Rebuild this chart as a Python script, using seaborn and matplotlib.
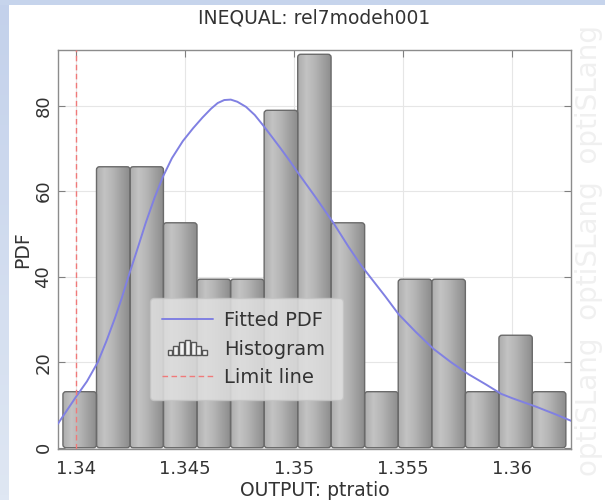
import numpy as np
import matplotlib
matplotlib.use("Agg")
import matplotlib.pyplot as plt
import seaborn as sns
from matplotlib.patches import Rectangle, FancyBboxPatch
from matplotlib.lines import Line2D
from matplotlib.legend_handler import HandlerBase
from matplotlib.colors import LinearSegmentedColormap

# ---- data -----------------------------------------------------------------
bin_edges = [1.33940, 1.34094, 1.34248, 1.34401, 1.34555, 1.34709, 1.34863,
             1.35017, 1.35170, 1.35324, 1.35478, 1.35632, 1.35786, 1.35940,
             1.36093, 1.36247]
pdf_heights = [13.1, 65.7, 65.7, 52.6, 39.4, 39.4, 78.9, 92.0, 52.6, 13.1,
               39.4, 39.4, 13.1, 26.3, 13.1]

fit_x = [1.33917, 1.34000, 1.34050, 1.34100, 1.34140, 1.34180, 1.34210,
         1.34239, 1.34280, 1.34320, 1.34360, 1.34399, 1.34440, 1.34490,
         1.34537, 1.34580, 1.34620, 1.34650, 1.34680, 1.34710, 1.34740,
         1.34780, 1.34820, 1.34858, 1.34900, 1.34940, 1.34980, 1.35018,
         1.35100, 1.35179, 1.35250, 1.35310, 1.35420, 1.35480, 1.35560,
         1.35640, 1.35720, 1.35800, 1.35880, 1.35950, 1.36000, 1.36110,
         1.36200, 1.36280]
fit_pdf = [5.6, 11.9, 15.5, 20.0, 25.0, 30.5, 35.0, 39.8, 46.2, 52.6, 58.4,
           63.4, 67.7, 71.7, 74.7, 77.2, 79.3, 80.6, 81.3, 81.4, 80.9, 79.7,
           77.8, 75.4, 72.6, 69.9, 67.1, 64.3, 58.5, 52.7, 47.0, 42.5, 35.3,
           31.2, 27.0, 23.1, 20.0, 17.2, 14.8, 12.6, 11.6, 9.6, 7.8, 6.1]

limit_value = 1.34
x_ticks = [1.34, 1.345, 1.35, 1.355, 1.36]
x_tick_labels = ["1.34", "1.345", "1.35", "1.355", "1.36"]
y_ticks = [0, 20, 40, 60, 80]

legend_labels = ["Fitted PDF", "Histogram", "Limit line"]

# ---- style ------------------------------------------------------------------
sns.set_style("ticks")
plt.rcParams["font.family"] = ["DejaVu Sans"]
TEXT = "#333333"
CURVE = "#8080e2"
LIMIT = "#f07a7a"

fig = plt.figure(figsize=(6.05, 5.0), dpi=100)
fig.patch.set_facecolor("white")

# slide backdrop: blue bands along the left and top edges
left_band = fig.add_axes([0, 0, 9 / 605, 1], zorder=0)
left_band.imshow(np.linspace(0, 1, 100).reshape(-1, 1), aspect="auto",
                 cmap=LinearSegmentedColormap.from_list("band", ["#c3d1eb", "#dfe7f3"]),
                 extent=(0, 1, 0, 1))
left_band.set_axis_off()
top_band = fig.add_axes([0, 1 - 5 / 500, 1, 5 / 500], zorder=0)
top_band.set_facecolor("#c6d4ec")
top_band.set_xticks([]); top_band.set_yticks([])
for s in top_band.spines.values():
    s.set_visible(False)

# faint product watermark on the right
fig.text(589 / 605, 0.5, "optiSLang  optiSLang  optiSLang", rotation=90,
         ha="center", va="center", fontsize=20, color="#f0f0f0", zorder=0)

ax = fig.add_axes([58 / 605, 51 / 500, 513 / 605, 399 / 500], zorder=2)
ax.set_facecolor("white")

XLIM = (1.339174, 1.362706)
YLIM = (-0.3, 93.0)

# histogram bars
centers = [(a + b) / 2 for a, b in zip(bin_edges[:-1], bin_edges[1:])]
sns.histplot(x=centers, weights=pdf_heights, bins=bin_edges, stat="count",
             ax=ax, edgecolor="#6c6c6c", linewidth=1.0, facecolor="#a8a8a8",
             alpha=1.0, zorder=2)

# restyle the bars as shaded, round-cornered columns
ax_w_px, ax_h_px = 513, 399
x_per_px = (XLIM[1] - XLIM[0]) / ax_w_px
y_per_px = (YLIM[1] - YLIM[0]) / ax_h_px
corner = 3 * x_per_px
aspect = y_per_px / x_per_px

bar_cmap = LinearSegmentedColormap.from_list(
    "bar", ["#adadad", "#c3c3c3", "#b5b5b5", "#a0a0a0", "#8c8c8c"])
grad = np.linspace(0, 1, 128).reshape(1, -1)
for p in list(ax.patches):
    x0, w, h = p.get_x(), p.get_width(), p.get_height()
    box = FancyBboxPatch((x0, 0), w, h,
                         boxstyle=f"round,pad=0,rounding_size={corner}",
                         mutation_aspect=aspect, facecolor="none",
                         edgecolor="#6a6a6a", linewidth=1.0, zorder=2.5)
    ax.add_patch(box)
    im = ax.imshow(grad, extent=(x0, x0 + w, 0, h), aspect="auto",
                   cmap=bar_cmap, zorder=2, interpolation="bilinear")
    im.set_clip_path(box)
    p.remove()

# fitted density
sns.lineplot(x=fit_x, y=fit_pdf, ax=ax, color=CURVE, linewidth=1.4,
             sort=False, legend=False, zorder=4)

# limit line
ax.axvline(limit_value, color=LIMIT, linestyle=(0, (4, 2.5)), linewidth=1.0,
           zorder=5)

ax.set_xlim(*XLIM)
ax.set_ylim(*YLIM)
ax.set_xticks(x_ticks)
ax.set_xticklabels(x_tick_labels)
ax.set_yticks(y_ticks)

ax.grid(True, color="#e6e6e6", linewidth=0.8)
ax.set_axisbelow(True)
for s in ax.spines.values():
    s.set_visible(True)
    s.set_color("#8c8c8c")
    s.set_linewidth(1.0)

ax.tick_params(direction="in", length=5, width=0.8, color="#808080",
               top=True, right=True, labelsize=13, labelcolor=TEXT)
ax.tick_params(axis="x", pad=8)
ax.tick_params(axis="y", labelrotation=90, pad=4)
for lab in ax.get_yticklabels():
    lab.set_va("center")

ax.set_title("INEQUAL: rel7modeh001", fontsize=13.5, color=TEXT, pad=19)
ax.set_xlabel("OUTPUT: ptratio", fontsize=13.5, color=TEXT, labelpad=2)
ax.set_ylabel("PDF", fontsize=13.5, color=TEXT)
ax.yaxis.set_label_coords(-0.05, 0.5)


# legend with a small histogram glyph
class HistGlyph(HandlerBase):
    def create_artists(self, legend, orig_handle, xdescent, ydescent,
                       width, height, fontsize, trans):
        shape = [0.35, 0.6, 0.9, 1.1, 0.9, 0.6, 0.35]
        n = len(shape)
        bw = width * 0.8 / n
        x_start = -xdescent + width * 0.1
        arts = []
        for i, f in enumerate(shape):
            r = Rectangle((x_start + i * bw, -ydescent), bw * 0.85, height * f,
                          facecolor="#f2f2f2", edgecolor="#555555",
                          linewidth=1.0, transform=trans)
            arts.append(r)
        return arts


hist_proxy = Rectangle((0, 0), 1, 1)
handles = [Line2D([], [], color=CURVE, linewidth=1.4),
           hist_proxy,
           Line2D([], [], color=LIMIT, linestyle=(0, (4, 2.5)), linewidth=1.0)]
leg = ax.legend(handles, legend_labels, handler_map={hist_proxy: HistGlyph()},
                loc="lower left", bbox_to_anchor=(0.179, 0.123, 0.376, 0.263),
                mode="expand", borderaxespad=0, fontsize=14, handlelength=2.6,
                handletextpad=0.55, labelspacing=0.5, borderpad=0.65,
                fancybox=True, framealpha=0.85, facecolor="#e0e0e0",
                edgecolor="#c4c4c4", labelcolor=TEXT)
leg.set_zorder(6)

fig.savefig("out.png", dpi=100)
